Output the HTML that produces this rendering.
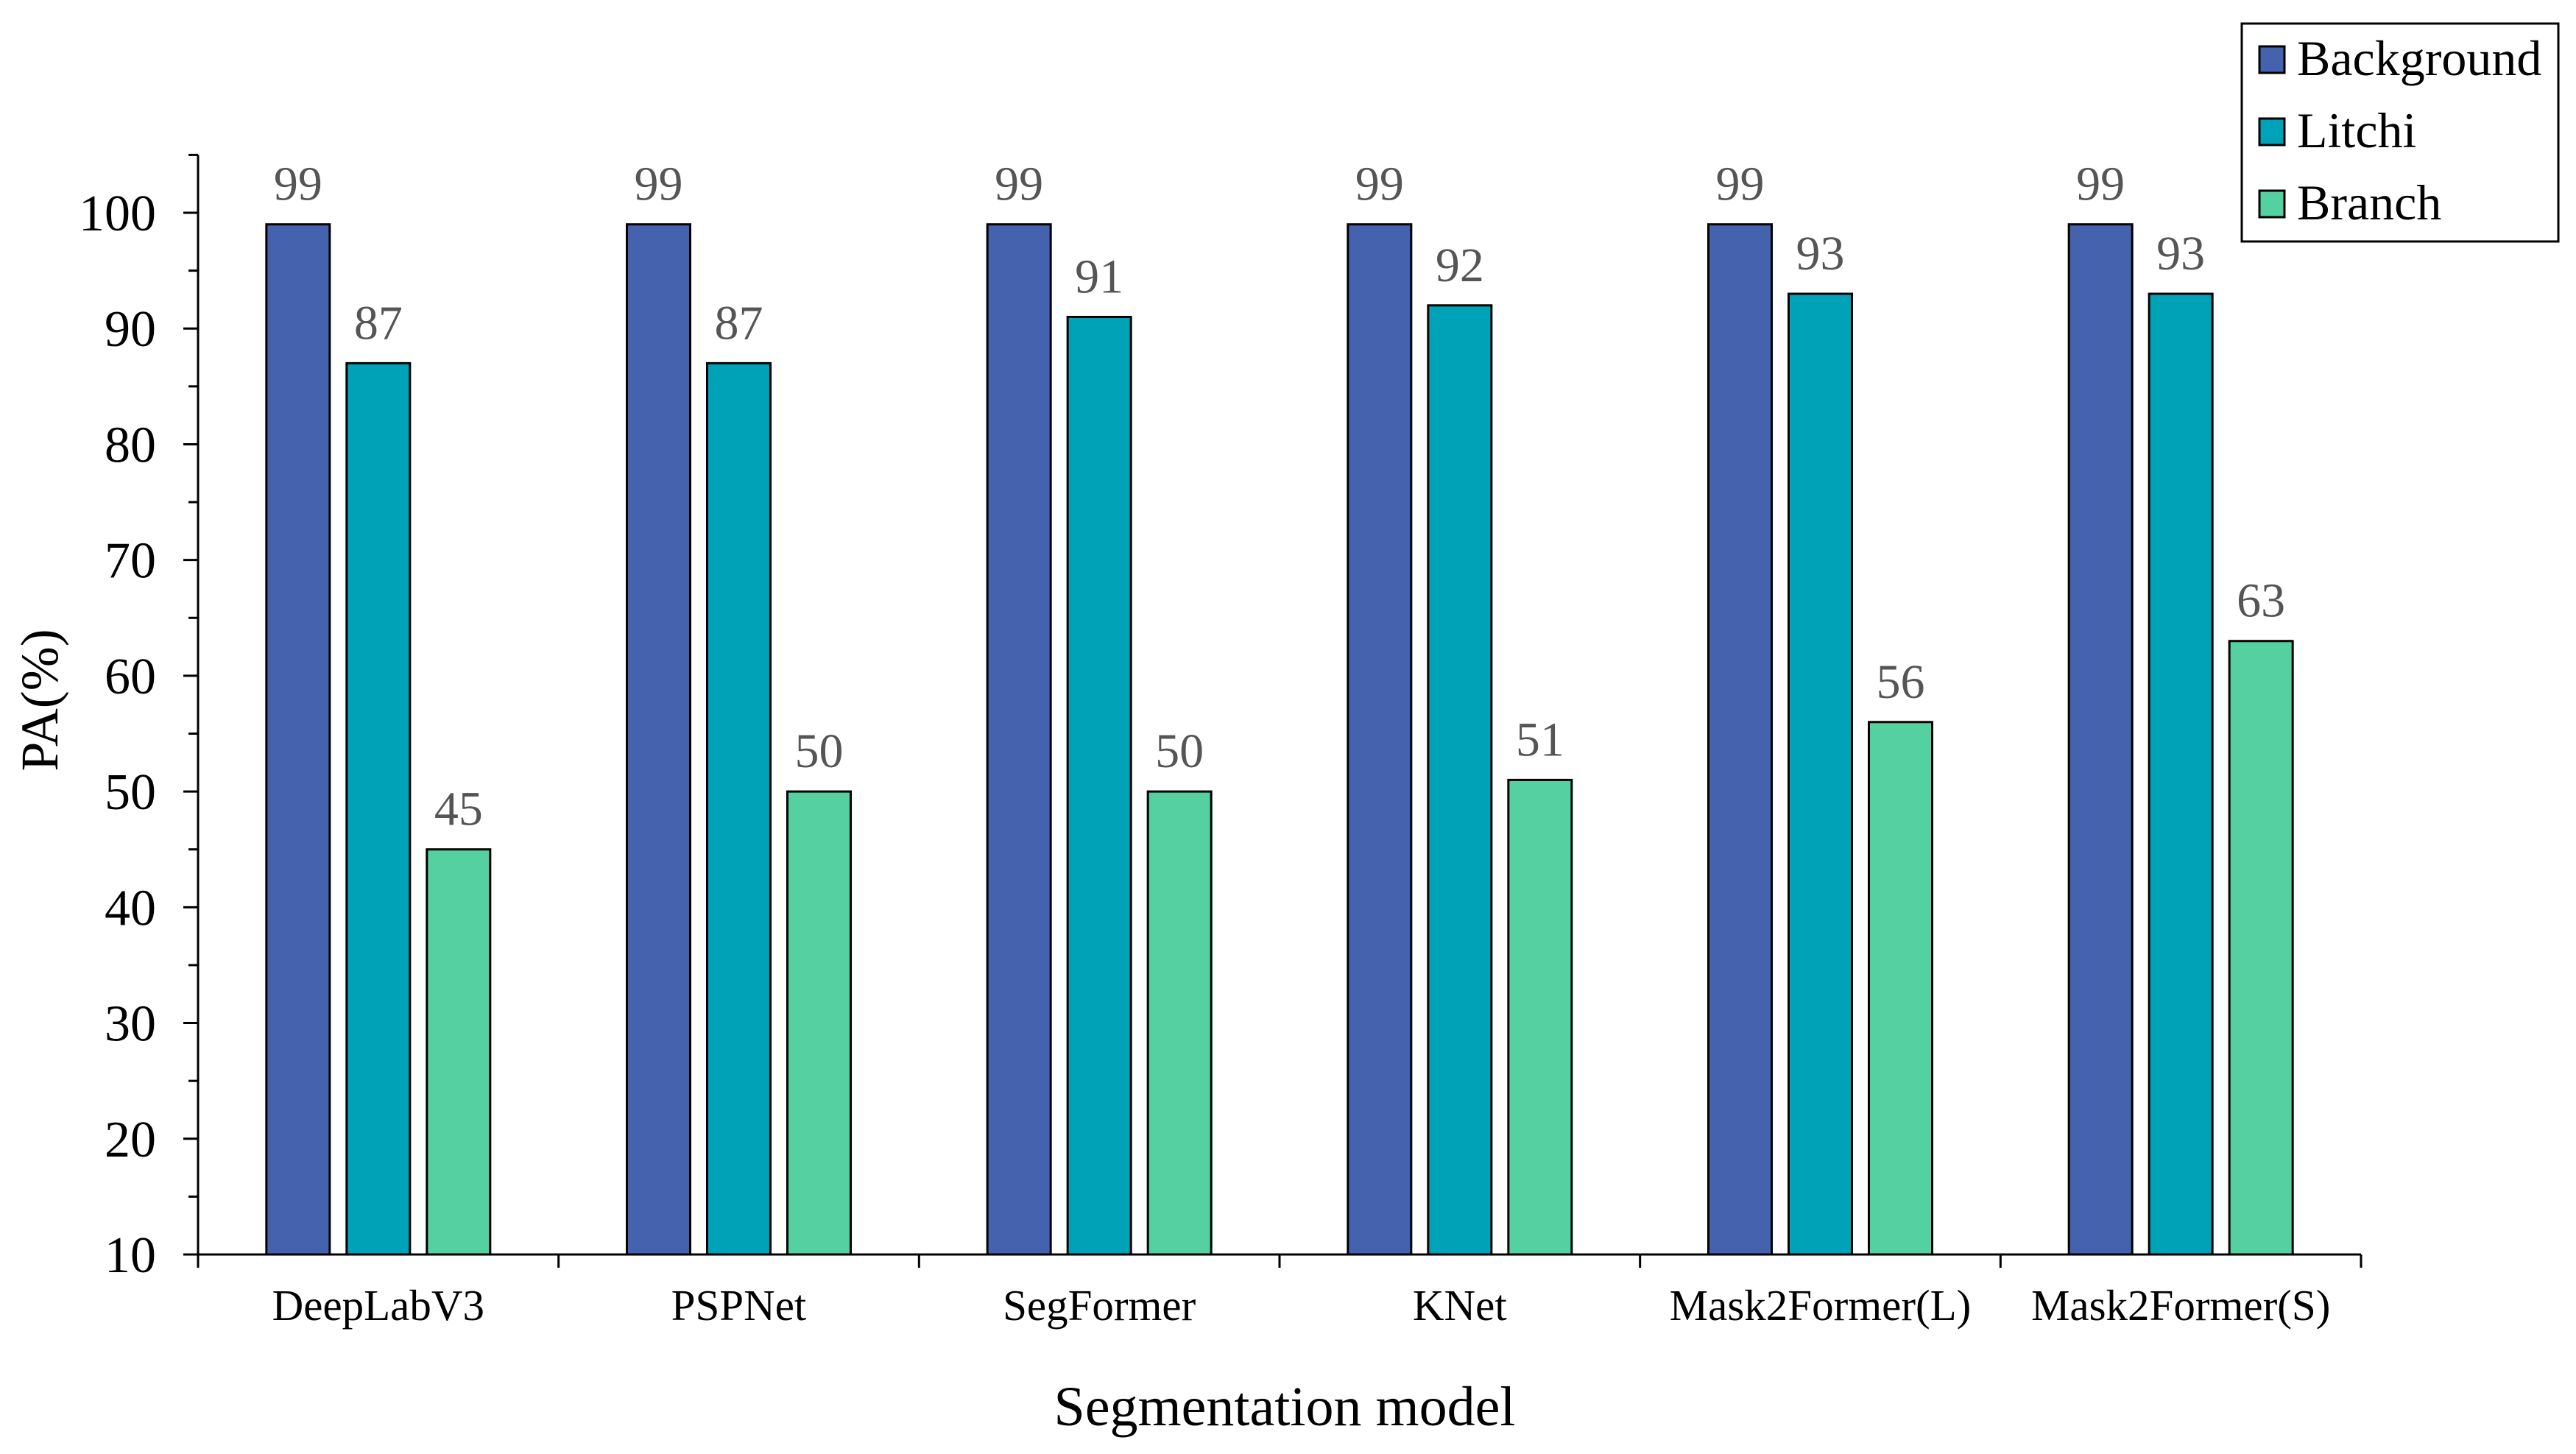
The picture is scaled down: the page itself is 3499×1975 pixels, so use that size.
<!DOCTYPE html>
<html><head><meta charset="utf-8"><style>
html,body{margin:0;padding:0;background:#fff;}
svg{display:block;font-family:"Liberation Serif",serif;}
</style></head><body>
<svg id="chart" width="3499" height="1975" viewBox="0 0 3499 1975" xmlns="http://www.w3.org/2000/svg"></svg>
<script>
const categories = ["DeepLabV3","PSPNet","SegFormer","KNet","Mask2Former(L)","Mask2Former(S)"];
const seriesNames = ["Background","Litchi","Branch"];
const backgroundValues = [99,99,99,99,99,99];
const litchiValues = [87,87,91,92,93,93];
const branchValues = [45,50,50,51,56,63];
const yTicks = [10,20,30,40,50,60,70,80,90,100];

const colors = ["#4462ae","#00a2b7","#55d0a1"];
const series = [backgroundValues, litchiValues, branchValues];
const NS = "http://www.w3.org/2000/svg";
const svg = document.getElementById("chart");
const X0 = 269, X1 = 3207, YMIN = 10, YMAX = 105;
function yScale(v){ return 1704 - (v - 10) * (1704 - 289) / 90; }
const band = (X1 - X0) / categories.length;
function xCenter(i){ return X0 + band * (i + 0.5); }
function mk(tag, attrs, text){
  const e = document.createElementNS(NS, tag);
  for (const k in attrs) e.setAttribute(k, attrs[k]);
  if (text !== undefined) e.textContent = text;
  svg.appendChild(e);
  return e;
}
// bars
const barW = 86, step = 109;
series.forEach((vals, s) => {
  vals.forEach((v, i) => {
    const cx = xCenter(i) + (s - 1) * step;
    const r = mk("rect", {x: cx - barW/2, y: yScale(v), width: barW, height: yScale(YMIN) - yScale(v), fill: colors[s], stroke: "#000", "stroke-width": 3});
    
    
    const t = mk("text", {x: cx, y: yScale(v) - 33, "text-anchor": "middle", "font-size": 66, fill: "#555"}, String(v));
    
    
  });
});
// y axis
const ya = mk("line", {x1: X0, y1: yScale(YMAX), x2: X0, y2: yScale(YMIN), stroke: "#000", "stroke-width": 3});


for (let v = YMIN; v <= YMAX; v += 5) {
  const major = v % 10 === 0;
  const tk = mk("line", {x1: X0 - (major ? 20 : 13), y1: yScale(v), x2: X0, y2: yScale(v), stroke: "#000", "stroke-width": 3});
  
  
}
yTicks.forEach(v => {
  const t = mk("text", {x: 212, y: yScale(v) + 24, "text-anchor": "end", "font-size": 70, fill: "#000"}, String(v));
  
  
});
// x axis
const xa = mk("line", {x1: X0 - 20, y1: yScale(YMIN), x2: X1, y2: yScale(YMIN), stroke: "#000", "stroke-width": 3});


for (let i = 0; i <= categories.length; i++) {
  const xx = X0 + band * i;
  const tk = mk("line", {x1: xx, y1: yScale(YMIN), x2: xx, y2: yScale(YMIN) + 18, stroke: "#000", "stroke-width": 3});
  
  
}
categories.forEach((c, i) => {
  const t = mk("text", {x: xCenter(i), y: 1793, "text-anchor": "middle", "font-size": 59, fill: "#000"}, c);
  
  
});
// titles
const xt = mk("text", {x: 1745, y: 1936, "text-anchor": "middle", "font-size": 76, fill: "#000"}, "Segmentation model");


const yt = mk("text", {x: 0, y: 0, transform: "translate(78,951) rotate(-90)", "text-anchor": "middle", "font-size": 72, fill: "#000"}, "PA(%)");


// legend
const lb = mk("rect", {x: 3045, y: 32, width: 430, height: 296, fill: "#fff", stroke: "#000", "stroke-width": 3});


seriesNames.forEach((n, s) => {
  const by = 102 + s * 98;
  const sw = mk("rect", {x: 3069, y: by - 39, width: 34, height: 36, fill: colors[s], stroke: "#000", "stroke-width": 3});
  
  
  const t = mk("text", {x: 3120, y: by, "font-size": 68, fill: "#000"}, n);
  
  
});
</script>
</body></html>
